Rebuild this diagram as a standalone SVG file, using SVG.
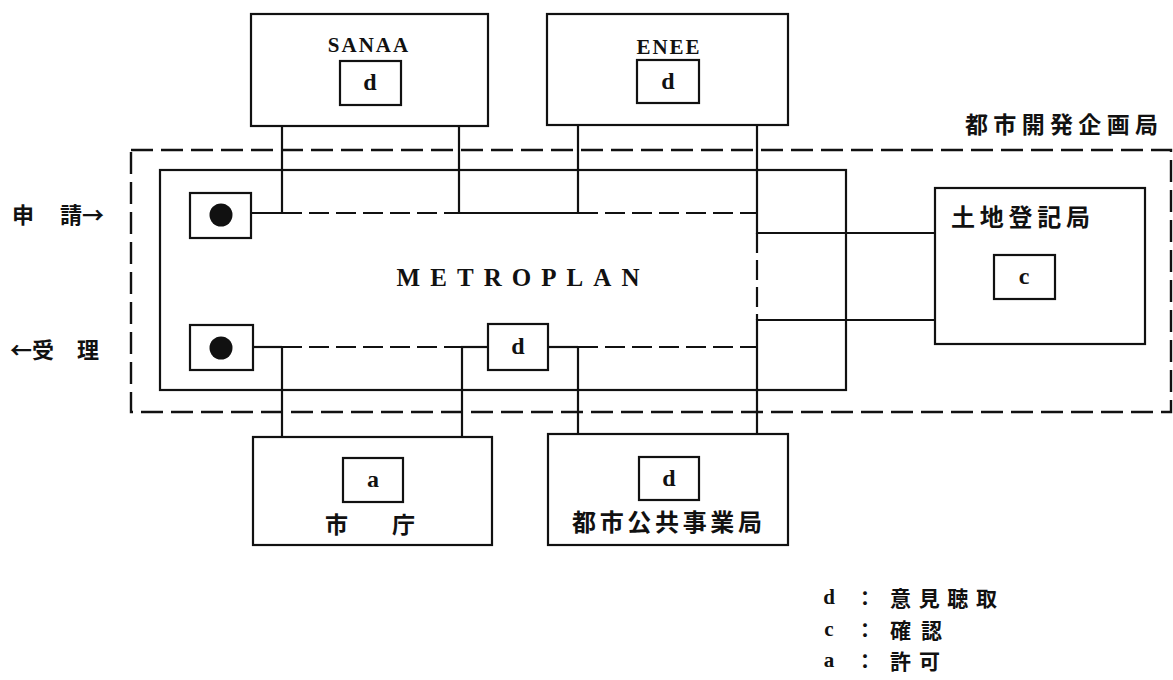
<svg xmlns="http://www.w3.org/2000/svg" width="1173" height="680" viewBox="0 0 1173 680">
<style>
.box{fill:#fff;stroke:#111;stroke-width:2.2}
.ln{fill:none;stroke:#111;stroke-width:2.2}
.dl{fill:none;stroke:#111;stroke-width:2.2;stroke-dasharray:20 7}
.od{fill:none;stroke:#111;stroke-width:2.4;stroke-dasharray:22 8}
.lat{font-family:"Liberation Serif",serif;font-weight:bold;fill:#111;dominant-baseline:central;text-anchor:middle}
.cjk{font-family:"Noto Sans CJK JP",sans-serif;font-weight:bold;fill:#111;dominant-baseline:central}
</style>
<rect width="1173" height="680" fill="#fff"/>
<g id="urban-dev-planning">
<rect class="od" x="131" y="150" width="1040" height="262"/>
<text class="cjk" x="965" y="123" font-size="23" textLength="193" lengthAdjust="spacing">都市開発企画局</text>
</g>
<g id="metroplan">
<rect class="box" x="160" y="170" width="686" height="220"/>
<text class="lat" x="518" y="277" font-size="25" textLength="243" lengthAdjust="spacing">METROPLAN</text>
</g>
<g id="connectors">
<polyline class="ln" points="340,83 282,83 282,213 251,213"/>
<polyline class="ln" points="401,83 459,83 459,213 578,213"/>
<polyline class="ln" points="637,83 578,83 578,213"/>
<polyline class="ln" points="699,83 757,83 757,233 1025,233 1025,255"/>
<polyline class="ln" points="1025,299 1025,320 757,320 757,478 699,478"/>
<line class="dl" x1="282" y1="213" x2="459" y2="213"/>
<line class="dl" x1="578" y1="213" x2="757" y2="213"/>
<line class="dl" x1="757" y1="233" x2="757" y2="320"/>
<line class="ln" x1="253" y1="347" x2="282" y2="347"/>
<line class="dl" x1="282" y1="347" x2="461" y2="347"/>
<line class="ln" x1="461" y1="347" x2="488" y2="347"/>
<line class="ln" x1="548" y1="347" x2="578" y2="347"/>
<line class="dl" x1="578" y1="347" x2="757" y2="347"/>
<polyline class="ln" points="282,347 282,478 343,478"/>
<polyline class="ln" points="403,478 462,478 462,347"/>
<polyline class="ln" points="578,347 578,478 639,478"/>
</g>
<g id="apply-box">
<rect class="box" x="190" y="193" width="61" height="45"/>
<circle cx="221" cy="215" r="11.5" fill="#111"/>
</g>
<g id="receive-box">
<rect class="box" x="190" y="325" width="63" height="45"/>
<circle cx="221" cy="348" r="11.5" fill="#111"/>
</g>
<g id="metroplan-d">
<rect class="box" x="488" y="324" width="60" height="46"/>
<text class="lat" x="518" y="346" font-size="24">d</text>
</g>
<g id="sanaa">
<rect class="box" x="251" y="14" width="237" height="112"/>
<text class="lat" x="369" y="45" font-size="21" letter-spacing="2">SANAA</text>
<rect class="box" x="340" y="61" width="61" height="44"/>
<text class="lat" x="370" y="82" font-size="24">d</text>
</g>
<g id="enee">
<rect class="box" x="547" y="14" width="241" height="111"/>
<text class="lat" x="669" y="47" font-size="21" letter-spacing="2">ENEE</text>
<rect class="box" x="637" y="60" width="62" height="43"/>
<text class="lat" x="668" y="81" font-size="24">d</text>
</g>
<g id="land-registry">
<rect class="box" x="935" y="188" width="210" height="156" fill="none"/>
<text class="cjk" x="951" y="215" font-size="24" textLength="139" lengthAdjust="spacing">土地登記局</text>
<rect class="box" x="994" y="255" width="61" height="44"/>
<text class="lat" x="1024" y="276" font-size="24">c</text>
</g>
<g id="city-hall">
<rect class="box" x="253" y="437" width="239" height="108" fill="none"/>
<rect class="box" x="343" y="458" width="60" height="44"/>
<text class="lat" x="373" y="479" font-size="24">a</text>
<text class="cjk" x="325" y="523" font-size="23">市</text>
<text class="cjk" x="392" y="523" font-size="23">庁</text>
</g>
<g id="public-works">
<rect class="box" x="548" y="434" width="240" height="111" fill="none"/>
<rect class="box" x="639" y="457" width="60" height="43"/>
<text class="lat" x="669" y="478" font-size="24">d</text>
<text class="cjk" x="572" y="520" font-size="24" textLength="190" lengthAdjust="spacing">都市公共事業局</text>
</g>
<g id="side-labels">
<text class="cjk" x="12" y="213" font-size="22">申</text>
<text class="cjk" x="60" y="213" font-size="22">請→</text>
<text class="cjk" x="10" y="348" font-size="22">←受</text>
<text class="cjk" x="77" y="348" font-size="22">理</text>
</g>
<g id="legend">
<text class="lat" x="829" y="597" font-size="21">d</text>
<text class="cjk" x="855" y="597" font-size="20">：</text>
<text class="cjk" x="890" y="597" font-size="21" textLength="107" lengthAdjust="spacing">意見聴取</text>
<text class="lat" x="829" y="629" font-size="21">c</text>
<text class="cjk" x="855" y="629" font-size="20">：</text>
<text class="cjk" x="890" y="629" font-size="21" textLength="52" lengthAdjust="spacing">確認</text>
<text class="lat" x="829" y="660" font-size="21">a</text>
<text class="cjk" x="855" y="660" font-size="20">：</text>
<text class="cjk" x="890" y="660" font-size="21" textLength="50" lengthAdjust="spacing">許可</text>
</g>
</svg>
